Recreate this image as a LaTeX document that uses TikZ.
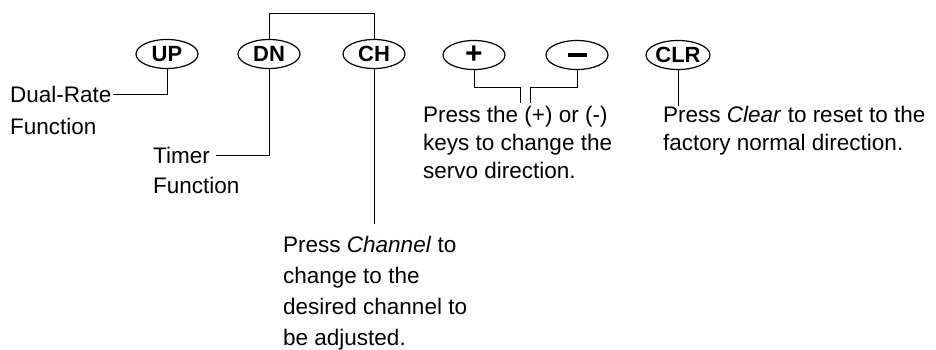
\documentclass[tikz,border=0pt]{standalone}
\usepackage{fontspec}
\setmainfont{Liberation Sans}
\usetikzlibrary{shapes.geometric}
\tikzset{
  key/.style={draw, ellipse, line width=1.2pt, minimum width=62pt, minimum height=29pt,
    inner sep=0pt, font=\fontsize{22}{22}\selectfont\bfseries},
  note/.style={anchor=base west, align=left, inner sep=0pt,
    font=\fontsize{22.5}{#1}\selectfont},
  note/.default=29,
  lead/.style={draw, line width=0.9pt}
}
\begin{document}
\begin{tikzpicture}[x=1pt,y=-1pt]
\useasboundingbox (0,0) rectangle (936,349);
% keys
\node[key] (up) at (167,54) {UP};
\node[key] (dn) at (269,54) {DN};
\node[key] (ch) at (374,54) {CH};
\node[key] (plus) at (474,55) {\fontsize{30}{30}\selectfont +};
\node[key] (minus) at (577,55) {\rule{19pt}{3.2pt}};
\node[key] (clr) at (678,55) {CLR};
% notes (base anchor = baseline of the last line)
\node[note=32] (dual) at (10,134) {Dual-Rate\\Function};
\node[note=30] (timer) at (153,193) {Timer\\Function};
\node[note=31] (chan) at (283,345) {Press \textit{Channel} to\\change to the\\desired channel to\\be adjusted.};
\node[note=28] (pm) at (423,178) {Press the (+) or (-)\\keys to change the\\servo direction.};
\node[note=28] (clear) at (663,150) {Press \textit{Clear} to reset to the\\factory normal direction.};
% connector ends
\coordinate (dualend) at (113,94);
\coordinate (timerend) at (216,155);
\coordinate (chend) at (374,224);
\coordinate (plend) at (520,103);
\coordinate (miend) at (530,103);
\coordinate (clrend) at (678,106);
% connectors
\path[lead] (up.south) |- (dualend);
\path[lead] (dn.south) |- (timerend);
\path[lead] (ch.south) -- (chend);
\path[lead] (dn.north) -- (dn.north |- 0,13) -| (ch.north);
\path[lead] (plus.south) |- (520,87) -- (plend);
\path[lead] (minus.south) |- (530,87) -- (miend);
\path[lead] (clr.south) -- (clrend);
\end{tikzpicture}
\end{document}
